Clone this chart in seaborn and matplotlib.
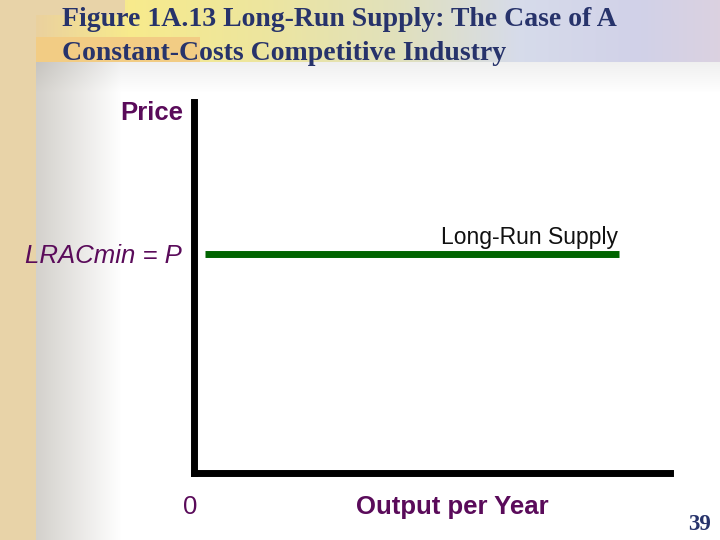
import numpy as np
import pandas as pd
import matplotlib.pyplot as plt
import seaborn as sns

# Data: constant-cost industry -> flat long-run supply at LRACmin
supply_output = [0.24, 8.92]
supply_price = [5.9, 5.9]
x_range = [0, 10]
y_range = [0, 10]

title_lines = ["Figure 1A.13 Long-Run Supply: The Case of A",
               "Constant-Costs Competitive Industry"]
purple = '#5a0b5a'
navy = '#27336b'

sns.set_theme(style="white")
plt.rcParams['font.family'] = ['Liberation Sans', 'DejaVu Sans']

fig = plt.figure(figsize=(7.2, 5.4), dpi=100)

# --- slide background (decoration only) ---
H, W = 540, 720
xs = np.arange(W)
ys = np.arange(H)
gray = np.array([0.83, 0.82, 0.80])
g = np.clip((xs - 36) / 85.0, 0, 1)
bg = gray[None, None, :] + (1 - gray)[None, None, :] * g[None, :, None]
bg = np.repeat(bg, H, axis=0)
# soft shadow under the banner
sh = np.clip((ys - 62) / 30.0, 0, 1)
bg = bg * (0.94 + 0.06 * sh)[:, None, None]
# banner colours across the top
stops = [36, 130, 260, 400, 520, 640, 720]
cols = np.array([[0.92, 0.82, 0.62], [0.97, 0.92, 0.55], [0.93, 0.90, 0.62],
                 [0.88, 0.88, 0.74], [0.84, 0.86, 0.92], [0.82, 0.82, 0.91],
                 [0.86, 0.82, 0.88]])
banner = np.stack([np.interp(xs, stops, cols[:, c]) for c in range(3)], axis=1)
bg[:62, :, :] = banner[None, :, :]
# orange band behind the second title line
bg[37:62, 25:200, :] = [0.95, 0.80, 0.52]
# parchment strip on the left
bg[:, :36, :] = [0.91, 0.83, 0.66]
bg[:15, 36:125, :] = [0.91, 0.83, 0.66]
fig.figimage(bg, 0, 0, origin='upper', zorder=-5)

# --- chart ---
ax = fig.add_axes([193.5 / 720, 1 - 473 / 540, (670 - 193.5) / 720, (473 - 102) / 540])
ax.set_zorder(2)
ax.set_facecolor('none')
df = pd.DataFrame({'Output': supply_output, 'Price': supply_price})
sns.lineplot(data=df, x='Output', y='Price', color='#006400', linewidth=5,
             solid_capstyle='butt', ax=ax)
ax.set_xlim(x_range)
ax.set_ylim(y_range)
ax.set_xticks([])
ax.set_yticks([])
ax.set_xlabel('')
ax.set_ylabel('')
for side in ['top', 'right']:
    ax.spines[side].set_visible(False)
for side in ['left', 'bottom']:
    ax.spines[side].set_color('black')
    ax.spines[side].set_linewidth(5)
    ax.spines[side].set_capstyle('projecting')

ax.text(8.9, 5.9 + 0.45, 'Long-Run Supply', ha='right', va='center',
        fontsize=16.5, color='#111111')

def px(x, y):
    return x / 720, 1 - y / 540

fig.text(*px(183, 113), 'Price', ha='right', va='center', fontsize=18.5,
         fontweight='bold', color=purple)
fig.text(*px(182, 256), 'LRACmin = P', ha='right', va='center', fontsize=18.5,
         style='italic', color=purple)
fig.text(*px(190, 507), '0', ha='center', va='center', fontsize=18.5, color=purple)
fig.text(*px(452, 507), 'Output per Year', ha='center', va='center', fontsize=18.5,
         fontweight='bold', color=purple)
fig.text(*px(700, 525), '39', ha='center', va='center', fontsize=16.5,
         fontweight='bold', color=navy, family='Liberation Serif')

fig.text(*px(62, 20), title_lines[0], ha='left', va='center', fontsize=20,
         fontweight='bold', color=navy, family='Liberation Serif')
fig.text(*px(62, 54), title_lines[1], ha='left', va='center', fontsize=20,
         fontweight='bold', color=navy, family='Liberation Serif')

fig.savefig('out.png', dpi=100)
